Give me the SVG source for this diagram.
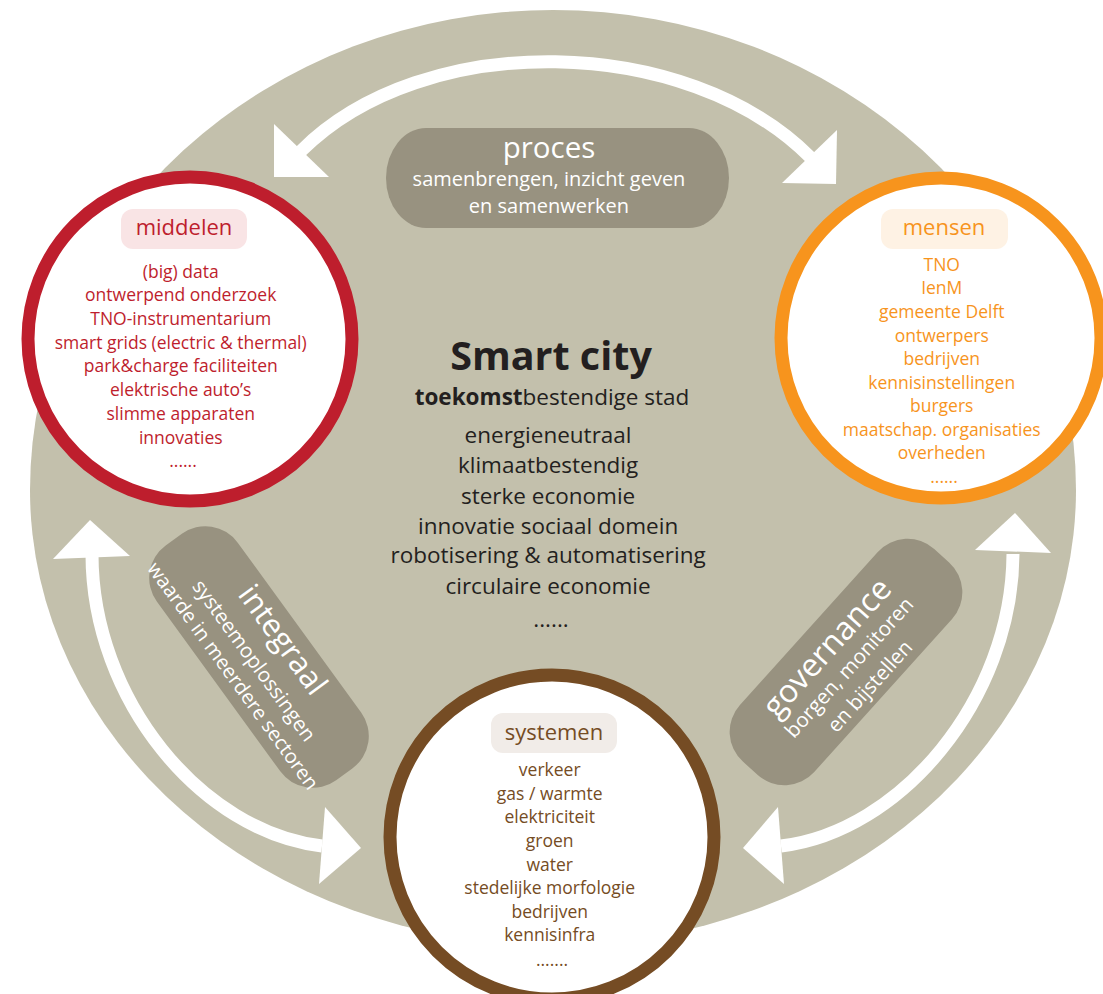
<svg xmlns="http://www.w3.org/2000/svg" width="1103" height="994" viewBox="0 0 1103 994">
<style>
.t{font-family:"Open Sans","Noto Sans","DejaVu Sans",sans-serif;text-anchor:middle}
.list{font-size:17.5px}
.red{fill:#be1e2d}
.org{fill:#f7941d}
.brn{fill:#754c24}
.dark{fill:#231f20}
.wht{fill:#ffffff}
.shaft{fill:none;stroke:#ffffff;stroke-width:13}
.head{fill:#ffffff}
.box{fill:#989280}
.ring{fill:#ffffff;stroke-width:13}
</style>
<rect width="1103" height="994" fill="#ffffff"/>
<g id="background">
<path d="M 30 490 A 523 480 0 0 1 1076 490 A 523 455 0 0 1 30 490 Z" fill="#c3c0ac"/>
</g>
<g id="connectors">
<path class="shaft" d="M 301 151 C 424 28 687 34 810 157"/>
<polygon class="head" points="274,124 274,177 329,177"/>
<polygon class="head" points="837,130 836,184 782,183"/>
<path class="shaft" d="M 92 554 C 92 700 202 832 322 846"/>
<polygon class="head" points="90,520 53,559 130,556"/>
<polygon class="head" points="325,807 361,848 319,884"/>
<path class="shaft" d="M 1013 554 C 1012 700 900 832 781 846"/>
<polygon class="head" points="1015,513 975,550 1051,553"/>
<polygon class="head" points="778,807 743,848 784,884"/>
</g>
<g id="node-proces">
<rect class="box" x="386" y="128" width="343" height="100" rx="40" ry="50"/>
<text class="t wht" x="549" y="158" font-size="29.5">proces</text>
<text class="t wht" x="549" y="186" font-size="20">samenbrengen, inzicht geven</text>
<text class="t wht" x="549" y="213" font-size="20">en samenwerken</text>
</g>
<g id="node-integraal" transform="translate(259,657) rotate(54)">
<rect class="box" x="-145" y="-50" width="290" height="100" rx="40"/>
<text class="t wht" x="0" y="-19" font-size="31">integraal</text>
<text class="t wht" x="0" y="13" font-size="20.5">systeemoplossingen</text>
<text class="t wht" x="0" y="39" font-size="20">waarde in meerdere sectoren</text>
</g>
<g id="node-governance" transform="translate(846,662) rotate(-48)">
<rect class="box" x="-143" y="-50" width="286" height="100" rx="40"/>
<text class="t wht" x="-2" y="-13" font-size="32">governance</text>
<text class="t wht" x="-2" y="13" font-size="20.5">borgen, monitoren</text>
<text class="t wht" x="-2" y="41" font-size="20.5">en bijstellen</text>
</g>
<g id="node-center">
<text class="t dark" x="551" y="370" font-size="39.5" font-weight="bold">Smart city</text>
<text class="t dark" x="552" y="405" font-size="22.5"><tspan font-weight="bold">toekomst</tspan>bestendige stad</text>
<text class="t dark" font-size="22.5">
<tspan x="551" y="443">energieneutraal</tspan>
<tspan x="551" y="473">klimaatbestendig</tspan>
<tspan x="551" y="503.5">sterke economie</tspan>
<tspan x="551" y="533.5">innovatie sociaal domein</tspan>
<tspan x="551" y="563">robotisering &amp; automatisering</tspan>
<tspan x="551" y="594">circulaire economie</tspan>
<tspan x="551" y="627">......</tspan>
</text>
</g>
<g id="node-middelen">
<circle class="ring" cx="190" cy="339" r="162" stroke="#be1e2d"/>
<rect x="121" y="209" width="126" height="40" rx="12" fill="#f9e4e5"/>
<text class="t red" x="184" y="235" font-size="22">middelen</text>
<text class="t red list">
<tspan x="183" y="277.5">(big) data</tspan>
<tspan x="183" y="301">ontwerpend onderzoek</tspan>
<tspan x="183" y="325">TNO-instrumentarium</tspan>
<tspan x="183" y="348.5">smart grids (electric &amp; thermal)</tspan>
<tspan x="183" y="372">park&amp;charge faciliteiten</tspan>
<tspan x="183" y="396">elektrische auto’s</tspan>
<tspan x="183" y="420">slimme apparaten</tspan>
<tspan x="183" y="443.5">innovaties</tspan>
<tspan x="183" y="466.5">......</tspan>
</text>
</g>
<g id="node-mensen">
<circle class="ring" cx="941" cy="338" r="160" stroke="#f7941d"/>
<rect x="881" y="209" width="127" height="40" rx="12" fill="#fef2e4"/>
<text class="t org" x="944" y="235" font-size="22">mensen</text>
<text class="t org list">
<tspan x="944" y="270.5">TNO</tspan>
<tspan x="944" y="294">IenM</tspan>
<tspan x="944" y="317.5">gemeente Delft</tspan>
<tspan x="944" y="341.5">ontwerpers</tspan>
<tspan x="944" y="365">bedrijven</tspan>
<tspan x="944" y="388.5">kennisinstellingen</tspan>
<tspan x="944" y="412">burgers</tspan>
<tspan x="944" y="435.5">maatschap. organisaties</tspan>
<tspan x="944" y="459">overheden</tspan>
<tspan x="944" y="483">......</tspan>
</text>
</g>
<g id="node-systemen">
<circle class="ring" cx="552" cy="837" r="162" stroke="#754c24"/>
<rect x="491" y="713" width="126" height="40" rx="12" fill="#f1ece8"/>
<text class="t brn" x="554" y="740" font-size="22">systemen</text>
<text class="t brn list">
<tspan x="552" y="776">verkeer</tspan>
<tspan x="552" y="799.5">gas / warmte</tspan>
<tspan x="552" y="823">elektriciteit</tspan>
<tspan x="552" y="847">groen</tspan>
<tspan x="552" y="870.5">water</tspan>
<tspan x="552" y="894">stedelijke morfologie</tspan>
<tspan x="552" y="917.5">bedrijven</tspan>
<tspan x="552" y="941">kennisinfra</tspan>
<tspan x="552" y="965.5">.......</tspan>
</text>
</g>
</svg>
